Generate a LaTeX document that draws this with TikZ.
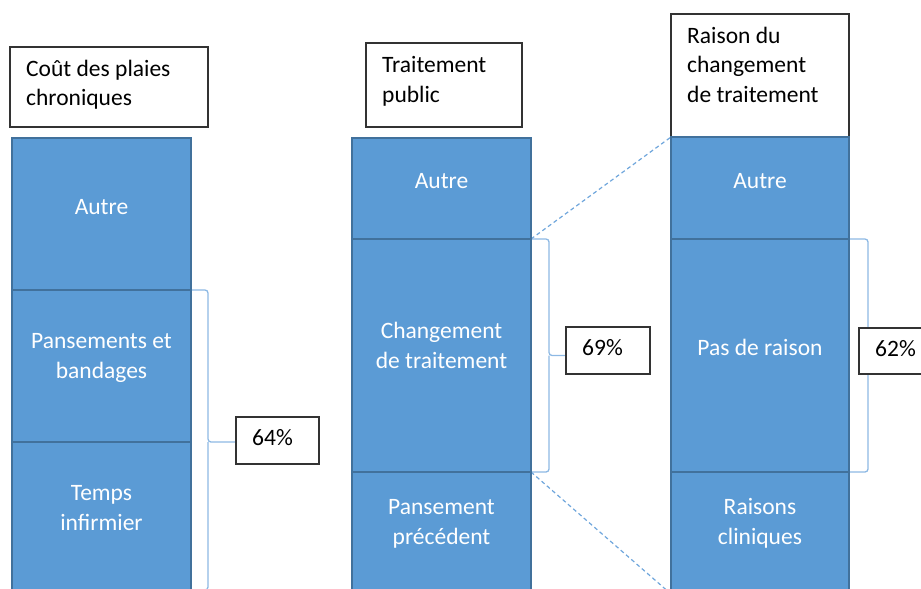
\documentclass[tikz,border=0pt]{standalone}
\usepackage{fontspec}
\setmainfont{Carlito}
\pgfdeclarelayer{background}
\pgfsetlayers{background,main}
\definecolor{segfill}{HTML}{5B9BD5}
\definecolor{segline}{HTML}{41719C}
\definecolor{bracec}{HTML}{8DB9E4}
\definecolor{dashc}{HTML}{6FA6DC}
\begin{document}
\begin{tikzpicture}[x=1pt,y=-1pt,
  seg/.style={draw=segline, line width=1.8pt, fill=segfill, anchor=north west, inner sep=0pt, outer sep=0pt},
  titlebox/.style={draw=black!80, line width=1.2pt, fill=white, anchor=north west, inner sep=0pt, outer sep=0pt},
  pctbox/.style={draw=black!80, line width=1.2pt, fill=white, anchor=north west, inner sep=0pt, outer sep=0pt},
  segtext/.style={text=white, font=\fontsize{23.5}{29.5}\selectfont, align=center, anchor=base, inner sep=0pt},
  blacktext/.style={text=black, font=\fontsize{23.5}{29.5}\selectfont, align=left, anchor=base west, inner sep=0pt},
  bracel/.style={draw=bracec, line width=1.3pt, rounded corners=3pt},
  zoomline/.style={draw=dashc, line width=1.2pt, dash pattern=on 4pt off 3pt}]
\useasboundingbox (0,0) rectangle (921,589);
\clip (0,0) rectangle (921,589);

% column 1
\node[titlebox, minimum width=198pt, minimum height=80pt] (t1) at (10,47) {};
\node[seg, minimum width=179pt, minimum height=152pt] (c1a) at (12,138) {};
\node[seg, minimum width=179pt, minimum height=152pt] (c1b) at (12,290) {};
\node[seg, minimum width=179pt, minimum height=152pt] (c1c) at (12,442) {};
\node[pctbox, minimum width=83pt, minimum height=47pt] (p1) at (236,417) {};

% column 2
\node[titlebox, minimum width=156pt, minimum height=84pt] (t2) at (366,43) {};
\node[seg, minimum width=179pt, minimum height=101pt] (c2a) at (352,138) {};
\node[seg, minimum width=179pt, minimum height=233pt] (c2b) at (352,239) {};
\node[seg, minimum width=179pt, minimum height=122pt] (c2c) at (352,472) {};
\node[pctbox, minimum width=84pt, minimum height=47pt] (p2) at (566,327) {};

% column 3
\node[titlebox, minimum width=178pt, minimum height=123pt] (t3) at (671,14) {};
\node[seg, minimum width=178pt, minimum height=102pt] (c3a) at (671,137) {};
\node[seg, minimum width=178pt, minimum height=233pt] (c3b) at (671,239) {};
\node[seg, minimum width=178pt, minimum height=122pt] (c3c) at (671,472) {};
\node[pctbox, minimum width=80pt, minimum height=46pt] (p3) at (859,328) {};

% texts (base anchor = baseline of the last line)
\node[blacktext] (tt1) at (26,105.5) {Coût des plaies\\chroniques};
\node[blacktext] (tt2) at (382,102) {Traitement\\public};
\node[blacktext] (tt3) at (687,102) {Raison du\\changement\\de traitement};

\node[segtext] (l1a) at (101.5,214) {Autre};
\node[segtext] (l1b) at (101.5,378) {Pansements et\\bandages};
\node[segtext] (l1c) at (101.5,530) {Temps\\infirmier};
\node[segtext] (l2a) at (441.5,188) {Autre};
\node[segtext] (l2b) at (441.5,368) {Changement\\de traitement};
\node[segtext] (l2c) at (441.5,544) {Pansement\\précédent};
\node[segtext] (l3a) at (760,188) {Autre};
\node[segtext] (l3b) at (760,355) {Pas de raison};
\node[segtext] (l3c) at (760,544) {Raisons\\cliniques};

\node[blacktext] (n1) at (252,445) {64\%};
\node[blacktext] (n2) at (582,355) {69\%};
\node[blacktext] (n3) at (875,356) {62\%};

\begin{pgfonlayer}{background}
  % braces
  \draw[bracel] (c1b.north east) -- ++(17,0) |- (c1b.south east -| p1.west);
  \draw[bracel] ([xshift=17pt]c1b.south east) |- ([yshift=4pt]c1c.south east);
  \draw[bracel] (c2b.north east) -- ++(18,0) |- (c2b.east -| p2.west);
  \draw[bracel] ([xshift=18pt]c2b.east) |- (c2b.south east);
  \draw[bracel] (c3b.north east) -- ++(19,0) |- (c3b.east -| p3.center);
  \draw[bracel] ([xshift=19pt]c3b.east) |- (c3b.south east);
  % zoom lines
  \draw[zoomline] (c2b.north east) -- (c3a.north west);
  \draw[zoomline] (c2b.south east) -- (c3c.south west);
\end{pgfonlayer}
\end{tikzpicture}
\end{document}
